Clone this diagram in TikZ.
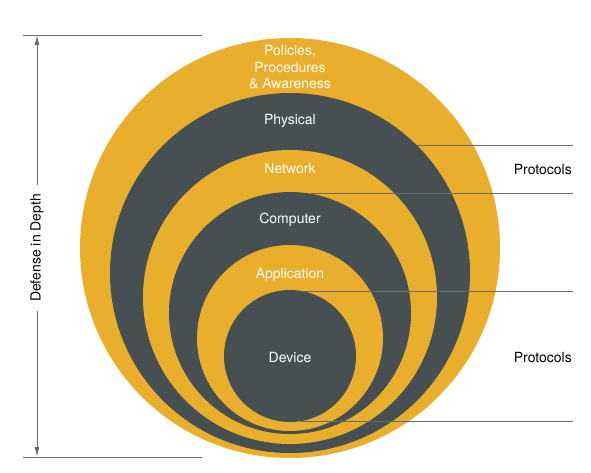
\documentclass[tikz,border=0pt]{standalone}
\usepackage{fontspec}
\setmainfont{TeX Gyre Heros}
\usetikzlibrary{arrows.meta}
\definecolor{ringgold}{RGB}{233,174,43}
\definecolor{ringdark}{RGB}{70,79,81}
\definecolor{rulegray}{RGB}{105,108,110}
\tikzset{
  ring/.style={circle, inner sep=0pt, outer sep=0pt, minimum size=#1},
  layer/.style={text=white, align=center, anchor=base, font=\fontsize{14}{16.5}\selectfont},
  side/.style={font=\fontsize{14}{16.5}\selectfont},
  rule/.style={draw=rulegray, line width=1pt},
  dimarrow/.style={rule, -{Latex[length=10pt,width=5pt]}},
}

\begin{document}
\begin{tikzpicture}[x=1pt, y=-1pt]
  \useasboundingbox (0,0) rectangle (591,472);

  \node[ring=420, fill=ringgold] (policies) at (290,248) {};
  \node[ring=360, fill=ringdark] (physical) at (290,273) {};
  \node[ring=294, fill=ringgold] (network) at (290,297) {};
  \node[ring=242, fill=ringdark] (computer) at (290,313) {};
  \node[ring=186, fill=ringgold] (application) at (290,338) {};
  \node[ring=132, fill=ringdark] (device) at (290,356) {};

  \node[layer] (policies label) at (290,55) {Policies,};
  \node[layer] (procedures label) at (290,72) {Procedures};
  \node[layer] (awareness label) at (290,88.5) {\& Awareness};
  \node[layer] (physical label) at (290,124) {Physical};
  \node[layer] (network label) at (290,173) {Network};
  \node[layer] (computer label) at (290,223) {Computer};
  \node[layer] (application label) at (290,278) {Application};
  \node[layer] (device label) at (290,362) {Device};

  \coordinate (rightedge) at (573,0);
  \draw[rule] (physical.45) -- (physical.45 -| rightedge);
  \draw[rule] (computer.80) -- (computer.80 -| rightedge);
  \draw[rule] (device.80) -- (device.80 -| rightedge);
  \draw[rule] (device.-80) -- (device.-80 -| rightedge);
  \node[side, anchor=base east, inner sep=0pt] (protocols top) at (572,174) {Protocols};
  \node[side, anchor=base east, inner sep=0pt] (protocols bottom) at (572,362) {Protocols};

  \coordinate (dimtop) at (37,35);
  \coordinate (dimbottom) at (37,457);
  \coordinate (topleft) at (23,35);
  \coordinate (topright) at (202,35);
  \coordinate (bottomleft) at (23,457);
  \coordinate (bottomright) at (202,457);
  \draw[rule] (topleft) -- (topright);
  \draw[rule] (bottomleft) -- (bottomright);
  \node[side, rotate=90, inner sep=9pt] (depth) at (37,248) {Defense in Depth};
  \draw[dimarrow] (depth.east) -- (dimtop);
  \draw[dimarrow] (depth.west) -- (dimbottom);
\end{tikzpicture}
\end{document}
